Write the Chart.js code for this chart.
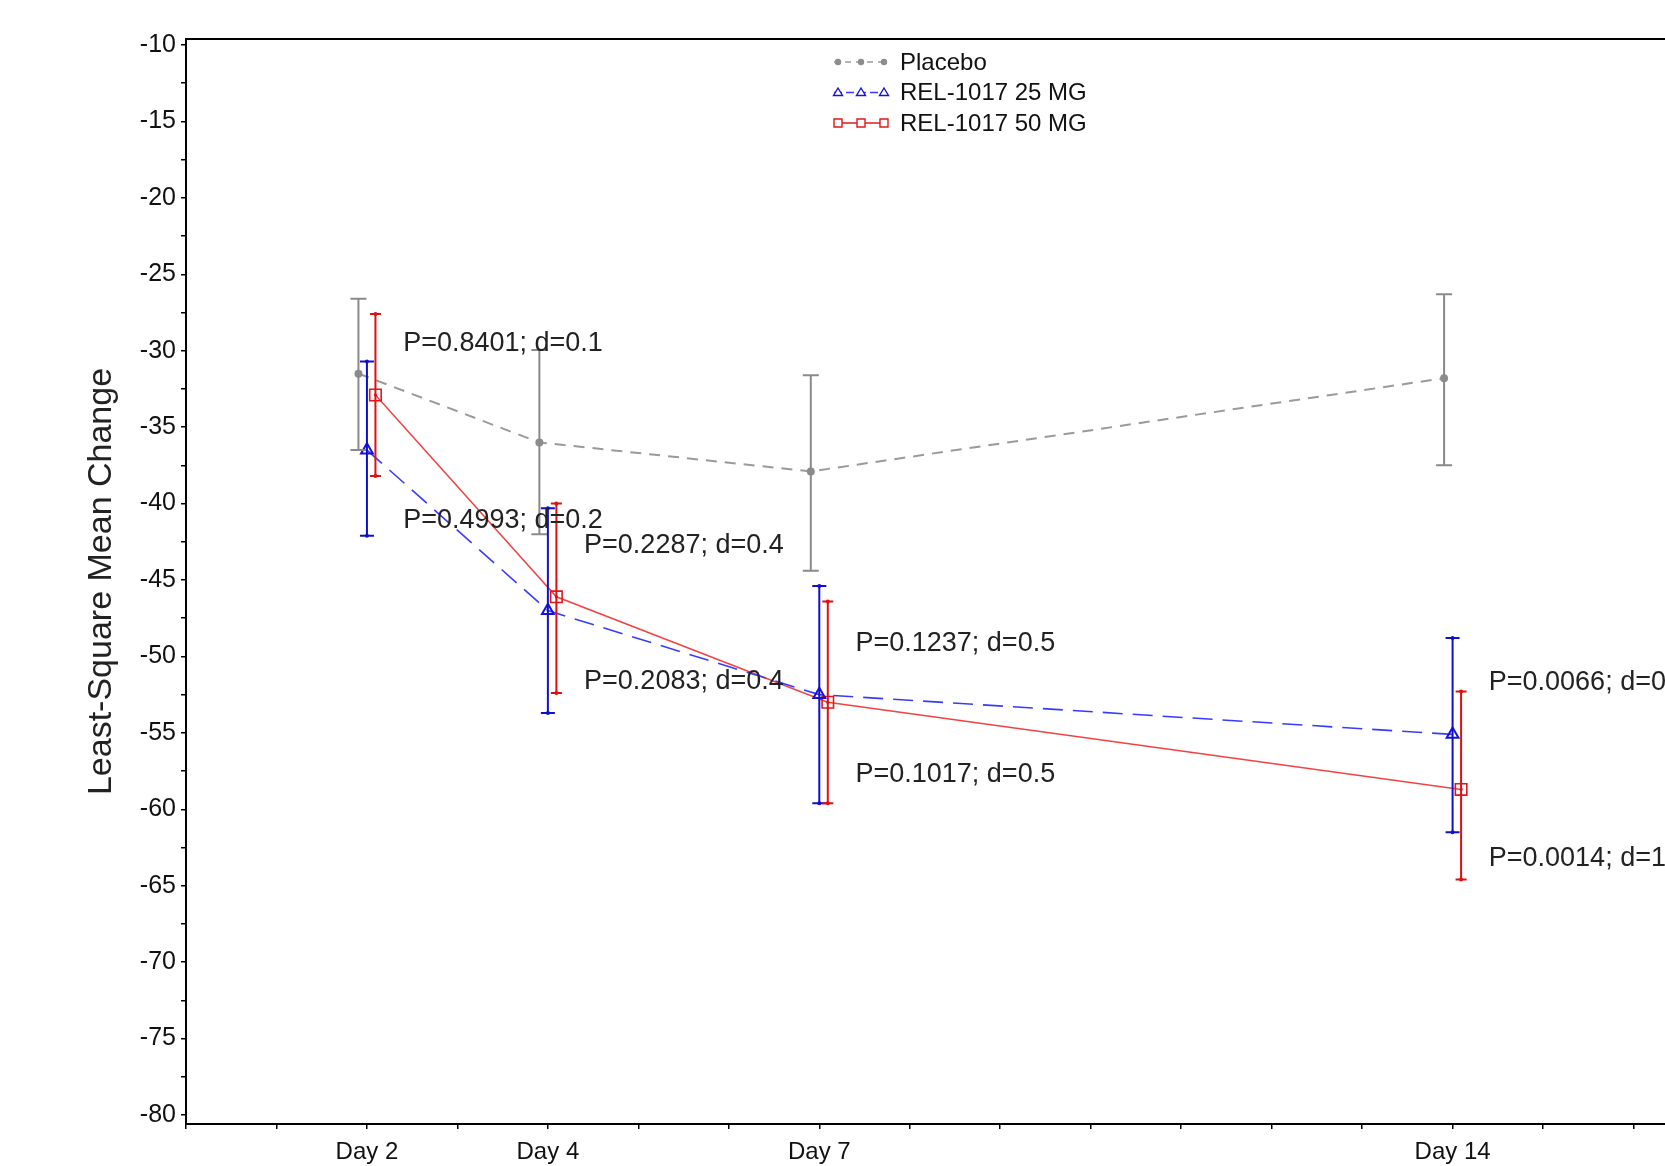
<!DOCTYPE html>
<html>
<head>
<meta charset="utf-8">
<script src="https://cdn.jsdelivr.net/npm/chart.js@4.4.1/dist/chart.umd.min.js"></script>
<style>
  html, body { margin: 0; padding: 0; background: #fff; overflow: hidden; width: 1665px; height: 1166px; }
  #wrap { position: absolute; left: 0; top: 0; width: 1760px; height: 1166px; }
  canvas { display: block; }
</style>
</head>
<body>
<div id="wrap"><canvas id="c" width="1760" height="1166"></canvas></div>
<script>
// Visit days and their axis labels
const days = [2, 4, 7, 14];
const dayLabels = ['Day 2', 'Day 4', 'Day 7', 'Day 14'];

// Least-square mean change with 95% CI, per arm
const placeboMean  = [-31.5, -36.0, -37.9, -31.8];
const placeboUpper = [-26.6, -29.95, -31.6, -26.3];
const placeboLower = [-36.5, -42.0, -44.4, -37.5];

const dose25Mean  = [-36.5, -47.0, -52.5, -55.1];
const dose25Upper = [-30.7, -40.3, -45.4, -48.8];
const dose25Lower = [-42.1, -53.7, -59.6, -61.5];

const dose50Mean  = [-32.9, -46.1, -53.0, -58.7];
const dose50Upper = [-27.6, -40.0, -46.4, -52.3];
const dose50Lower = [-38.2, -52.4, -59.6, -64.6];

const seriesNames = ['Placebo', 'REL-1017 25 MG', 'REL-1017 50 MG'];

// Comparison notes versus placebo at each visit (upper and lower note)
const upperNotes = ['P=0.8401; d=0.1', 'P=0.2287; d=0.4', 'P=0.1237; d=0.5', 'P=0.0066; d=0.8'];
const upperNoteY = [-29.55, -42.75, -49.15, -51.7];
const lowerNotes = ['P=0.4993; d=0.2', 'P=0.2083; d=0.4', 'P=0.1017; d=0.5', 'P=0.0014; d=1.0'];
const lowerNoteY = [-41.1, -51.65, -57.7, -63.25];

// Y axis tick labels are multiples of 5; minor ticks between
const yTickStep = 2.5;

// ---- styling ----
const FONT = '"Liberation Sans", Arial, Helvetica, sans-serif';
const DODGE = 0.094;        // horizontal offset between arms, in days
const NOTE_OFFSET = 0.4;    // note text starts this many days right of the visit

const arms = [
  { mean: placeboMean, upper: placeboUpper, lower: placeboLower, dodge: -DODGE,
    line: '#9a9a9a', bar: '#8a8a8a', cap: 8, capDot: false },
  { mean: dose25Mean, upper: dose25Upper, lower: dose25Lower, dodge: 0,
    line: '#3a3aff', bar: '#1010cc', cap: 7, capDot: true },
  { mean: dose50Mean, upper: dose50Upper, lower: dose50Lower, dodge: DODGE,
    line: '#f04444', bar: '#e01010', cap: 5.5, capDot: true }
];

function toPoints(arm) {
  return days.map((d, i) => ({ x: d + arm.dodge, y: arm.mean[i] }));
}

const datasets = [
  {
    label: seriesNames[0], data: toPoints(arms[0]),
    borderColor: arms[0].line, borderWidth: 2, borderDash: [11, 8],
    pointStyle: 'circle', pointRadius: 4, pointBackgroundColor: '#8c8c8c',
    pointBorderColor: '#8c8c8c', pointBorderWidth: 0, tension: 0
  },
  {
    label: seriesNames[1], data: toPoints(arms[1]),
    borderColor: arms[1].line, borderWidth: 1.6, borderDash: [20, 10],
    pointStyle: 'triangle', pointRadius: 6.8, pointBackgroundColor: 'rgba(255,255,255,0)',
    pointBorderColor: '#1414d8', pointBorderWidth: 2, tension: 0
  },
  {
    label: seriesNames[2], data: toPoints(arms[2]),
    borderColor: arms[2].line, borderWidth: 1.5,
    pointStyle: 'rect', pointRadius: 8.1, pointBackgroundColor: 'rgba(255,255,255,0)',
    pointBorderColor: '#e01818', pointBorderWidth: 1.6, tension: 0
  }
];

// Error bars with caps, drawn through the chart scales
const errorBarPlugin = {
  id: 'errorBars',
  afterDatasetsDraw(chart) {
    const { ctx, scales: { x, y } } = chart;
    arms.forEach(arm => {
      ctx.save();
      ctx.strokeStyle = arm.bar;
      ctx.fillStyle = arm.bar;
      ctx.lineWidth = 2;
      days.forEach((d, i) => {
        const px = x.getPixelForValue(d + arm.dodge);
        const top = y.getPixelForValue(arm.upper[i]);
        const bot = y.getPixelForValue(arm.lower[i]);
        ctx.beginPath();
        ctx.moveTo(px, top); ctx.lineTo(px, bot);
        ctx.moveTo(px - arm.cap, top); ctx.lineTo(px + arm.cap, top);
        ctx.moveTo(px - arm.cap, bot); ctx.lineTo(px + arm.cap, bot);
        ctx.stroke();
        if (arm.capDot) {
          [top, bot].forEach(py => {
            ctx.beginPath(); ctx.arc(px, py, 2, 0, Math.PI * 2); ctx.fill();
          });
        }
      });
      ctx.restore();
    });
    // small centre dot inside the open squares
    const sq = arms[2];
    ctx.save();
    ctx.fillStyle = '#e01010';
    days.forEach((d, i) => {
      ctx.beginPath();
      ctx.arc(x.getPixelForValue(d + sq.dodge), y.getPixelForValue(sq.mean[i]), 1.6, 0, Math.PI * 2);
      ctx.fill();
    });
    ctx.restore();
  }
};

// Plot frame, P/d notes and the legend
const decorPlugin = {
  id: 'decor',
  afterDraw(chart) {
    const { ctx, chartArea: a, scales: { x, y } } = chart;
    ctx.save();
    ctx.strokeStyle = '#000';
    ctx.lineWidth = 2;
    ctx.beginPath();
    ctx.moveTo(a.left - 1, a.top); ctx.lineTo(a.right, a.top); ctx.lineTo(a.right, a.bottom);
    ctx.stroke();

    ctx.fillStyle = '#222';
    ctx.font = '27px ' + FONT;
    ctx.textAlign = 'left';
    ctx.textBaseline = 'middle';
    days.forEach((d, i) => {
      const tx = x.getPixelForValue(d + NOTE_OFFSET);
      ctx.fillText(upperNotes[i], tx, y.getPixelForValue(upperNoteY[i]));
      ctx.fillText(lowerNotes[i], tx, y.getPixelForValue(lowerNoteY[i]));
    });

    // legend
    const lx0 = 834, lx1 = 887, mids = [838, 861, 884], textX = 900;
    const rows = [62, 92.5, 123];
    ctx.font = '24px ' + FONT;
    ctx.fillStyle = '#111';
    seriesNames.forEach((name, r) => {
      const ry = rows[r];
      ctx.save();
      if (r === 0) {
        ctx.strokeStyle = '#9a9a9a'; ctx.lineWidth = 1.6; ctx.setLineDash([6, 5]);
        ctx.beginPath(); ctx.moveTo(lx0, ry); ctx.lineTo(lx1, ry); ctx.stroke();
        ctx.fillStyle = '#8c8c8c';
        mids.forEach(mx => { ctx.beginPath(); ctx.arc(mx, ry, 3.2, 0, Math.PI * 2); ctx.fill(); });
      } else if (r === 1) {
        ctx.strokeStyle = '#3a3aff'; ctx.lineWidth = 1.4; ctx.setLineDash([8, 4]);
        ctx.beginPath(); ctx.moveTo(lx0, ry); ctx.lineTo(lx1, ry); ctx.stroke();
        ctx.setLineDash([]);
        ctx.strokeStyle = '#1414d8'; ctx.fillStyle = '#fff'; ctx.lineWidth = 1.4;
        mids.forEach(mx => {
          ctx.beginPath();
          ctx.moveTo(mx, ry - 4.5); ctx.lineTo(mx + 4.5, ry + 3); ctx.lineTo(mx - 4.5, ry + 3); ctx.closePath();
          ctx.fill(); ctx.stroke();
        });
      } else {
        ctx.strokeStyle = '#e01818'; ctx.lineWidth = 1.4;
        ctx.beginPath(); ctx.moveTo(lx0, ry); ctx.lineTo(lx1, ry); ctx.stroke();
        ctx.fillStyle = '#fff';
        mids.forEach(mx => {
          ctx.beginPath(); ctx.rect(mx - 4, ry - 4, 8, 8); ctx.fill(); ctx.stroke();
        });
      }
      ctx.restore();
      ctx.fillText(name, textX, ry + 1);
    });
    ctx.restore();
  }
};

new Chart(document.getElementById('c'), {
  type: 'line',
  data: { datasets },
  plugins: [errorBarPlugin, decorPlugin],
  options: {
    responsive: false,
    animation: false,
    events: [],
    layout: { padding: { top: 39, right: 36, bottom: 0, left: 0 } },
    plugins: { legend: { display: false }, tooltip: { enabled: false } },
    scales: {
      x: {
        type: 'linear', min: 0, max: 17,
        afterFit(scale) { scale.height = 42; },
        border: { display: true, color: '#000', width: 2 },
        grid: { drawOnChartArea: false, drawTicks: true, tickLength: 5, color: '#000', lineWidth: 1.5 },
        ticks: {
          stepSize: 1, autoSkip: false, maxRotation: 0, padding: 9,
          color: '#111', font: { family: FONT, size: 24 },
          callback: v => { const k = days.indexOf(v); return k >= 0 ? dayLabels[k] : ''; }
        }
      },
      y: {
        type: 'linear', min: -80.59, max: -9.607,
        afterFit(scale) { scale.width = 186; },
        border: { display: true, color: '#000', width: 2 },
        grid: { drawOnChartArea: false, drawTicks: true, tickLength: 5, color: '#000', lineWidth: 1.5 },
        title: {
          display: true, text: 'Least-Square Mean Change', color: '#222',
          font: { family: FONT, size: 34 }, padding: { top: 81, bottom: 0 }
        },
        ticks: {
          stepSize: yTickStep, includeBounds: false, autoSkip: false, padding: 5,
          color: '#111', font: { family: FONT, size: 25 },
          callback: v => (Math.abs(v % 5) < 1e-9 ? String(v) : '')
        }
      }
    }
  }
});
</script>
</body>
</html>
